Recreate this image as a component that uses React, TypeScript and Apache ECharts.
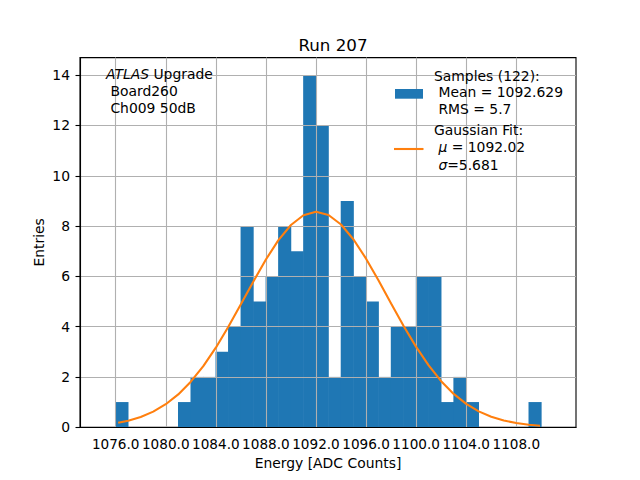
import React, { useEffect, useRef } from "react";
import * as echarts from "echarts";

// ---- data ----
const binStarts = [
  1076, 1077, 1078, 1079, 1080, 1081, 1082, 1083, 1084, 1085, 1086, 1087,
  1088, 1089, 1090, 1091, 1092, 1093, 1094, 1095, 1096, 1097, 1098, 1099,
  1100, 1101, 1102, 1103, 1104, 1105, 1106, 1107, 1108, 1109,
];
const binEnds = [
  1077, 1078, 1079, 1080, 1081, 1082, 1083, 1084, 1085, 1086, 1087, 1088,
  1089, 1090, 1091, 1092, 1093, 1094, 1095, 1096, 1097, 1098, 1099, 1100,
  1101, 1102, 1103, 1104, 1105, 1106, 1107, 1108, 1109, 1110,
];
const counts = [
  1, 0, 0, 0, 0, 1, 2, 2, 3, 4, 8, 5,
  6, 8, 7, 14, 12, 2, 9, 6, 5, 2, 4, 4,
  6, 6, 1, 2, 1, 0, 0, 0, 0, 1,
];
const fitX = [
  1076.2, 1077, 1078, 1079, 1080, 1081, 1082, 1083, 1084, 1085, 1086, 1087,
  1088, 1089, 1090, 1091, 1092, 1093, 1094, 1095, 1096, 1097, 1098, 1099,
  1100, 1101, 1102, 1103, 1104, 1105, 1106, 1107, 1108, 1109, 1109.9,
];
const fitY = [
  0.177, 0.26, 0.408, 0.62, 0.914, 1.305, 1.809, 2.429, 3.163, 3.992, 4.886,
  5.798, 6.67, 7.438, 8.042, 8.43, 8.567, 8.44, 8.062, 7.466, 6.703, 5.834,
  4.923, 4.027, 3.194, 2.456, 1.831, 1.323, 0.927, 0.63, 0.415, 0.265, 0.164,
  0.098, 0.06,
];
const xTicks = [1076, 1080, 1084, 1088, 1092, 1096, 1100, 1104, 1108];
const yTicks = [0, 2, 4, 6, 8, 10, 12, 14];
const titleText = "Run 207";
const xLabel = "Energy [ADC Counts]";
const yLabel = "Entries";
const sampleLegend = ["Samples (122):", " Mean = 1092.629", " RMS = 5.7"];
const fitLegend = ["Gaussian Fit:", " {i|μ} = 1092.02", " {i|σ}=5.681"];

const FONT = "DejaVu Sans";
const BLUE = "#1f77b4";
const ORANGE = "#ff7f0e";
const GRIDC = "#b0b0b0";

export default function App() {
  const ref = useRef<HTMLDivElement>(null);
  useEffect(() => {
    const chart = echarts.init(ref.current!, null, { renderer: "svg" });
    const histData = binStarts.map((s, i) => [s, counts[i], binEnds[i]]);
    const fitData = fitX.map((x, i) => [x, fitY[i]]);
    chart.setOption({
      animation: false,
      backgroundColor: "#fff",
      textStyle: { fontFamily: FONT },
      title: {
        text: titleText,
        left: 328,
        top: 31,
        textAlign: "center",
        textStyle: { fontFamily: FONT, fontSize: 16.7, fontWeight: "normal", color: "#000" },
      },
      grid: {
        left: 80,
        top: 57.6,
        width: 496,
        height: 369.6,
        show: true,
        borderColor: "#000",
        borderWidth: 1.1,
        backgroundColor: "transparent",
      },
      xAxis: {
        type: "value",
        min: 1073.15,
        max: 1112.77,
        z: 1.5,
        name: xLabel,
        nameLocation: "middle",
        nameGap: 28,
        nameTextStyle: { fontFamily: FONT, fontSize: 13.9, color: "#000" },
        axisLine: { show: true, onZero: false, lineStyle: { color: "#000", width: 1.1 } },
        axisTick: { show: false, customValues: xTicks },
        axisLabel: {
          customValues: xTicks,
          formatter: (v: number) => v.toFixed(1),
          fontFamily: FONT,
          fontSize: 13.6,
          color: "#000",
          margin: 10,
          hideOverlap: false,
        },
        splitLine: { show: true, lineStyle: { color: GRIDC, width: 1.1 } },
      },
      yAxis: {
        type: "value",
        min: 0,
        max: 14.7,
        z: 1.5,
        name: yLabel,
        nameLocation: "middle",
        nameGap: 34,
        nameMoveOverlap: false,
        nameRotate: 90,
        nameTextStyle: { fontFamily: FONT, fontSize: 13.9, color: "#000" },
        axisLine: { show: true, lineStyle: { color: "#000", width: 1.1 } },
        axisTick: { show: true, length: 4.5, customValues: yTicks, lineStyle: { color: "#000", width: 1.1 } },
        axisLabel: {
          customValues: yTicks,
          fontFamily: FONT,
          fontSize: 13.9,
          color: "#000",
          margin: 10,
        },
        splitLine: { show: true, lineStyle: { color: GRIDC, width: 1.1 } },
      },
      graphic: [
        {
          type: "text",
          left: 106,
          top: 66,
          z: 10,
          style: {
            text: "{i|ATLAS} Upgrade\n Board260\n Ch009 50dB",
            fontFamily: FONT,
            fontSize: 13.9,
            lineHeight: 16.7,
            fill: "#000",
            rich: {
              i: { fontFamily: FONT, fontSize: 13.9, fontStyle: "italic", lineHeight: 16.7 },
            },
          },
        },
        {
          type: "rect",
          z: 10,
          shape: { x: 395, y: 89, width: 28, height: 9.7 },
          style: { fill: BLUE },
        },
        {
          type: "text",
          left: 434,
          top: 68,
          z: 10,
          style: {
            text: sampleLegend.join("\n"),
            fontFamily: FONT,
            fontSize: 13.9,
            lineHeight: 16.2,
            fill: "#000",
          },
        },
        {
          type: "line",
          z: 10,
          shape: { x1: 394, y1: 149, x2: 423.5, y2: 149 },
          style: { stroke: ORANGE, lineWidth: 2.1 },
        },
        {
          type: "text",
          left: 434,
          top: 121,
          z: 10,
          style: {
            text: fitLegend.join("\n"),
            fontFamily: FONT,
            fontSize: 13.9,
            lineHeight: 17.5,
            fill: "#000",
            rich: {
              i: { fontFamily: FONT, fontSize: 13.9, fontStyle: "italic", lineHeight: 17.5 },
            },
          },
        },
      ],
      series: [
        {
          type: "custom",
          name: "Samples",
          z: 1,
          encode: { x: [0, 2], y: 1 },
          data: histData,
          renderItem: (params: any, api: any) => {
            const x0 = api.value(0);
            const h = api.value(1);
            const x1 = api.value(2);
            const p0 = api.coord([x0, h]);
            const p1 = api.coord([x1, 0]);
            return {
              type: "rect",
              shape: { x: p0[0] - 0.3, y: p0[1], width: p1[0] - p0[0] + 0.6, height: p1[1] - p0[1] },
              style: { fill: BLUE },
            };
          },
        },
        {
          type: "line",
          name: "Gaussian Fit",
          z: 3,
          data: fitData,
          showSymbol: false,
          symbol: "none",
          lineStyle: { color: ORANGE, width: 2.1 },
        },
      ],
    });
    return () => chart.dispose();
  }, []);
  return (
    <div
      ref={ref}
      style={{ position: "fixed", left: 0, top: 0, width: 640, height: 480, background: "#fff" }}
    />
  );
}
